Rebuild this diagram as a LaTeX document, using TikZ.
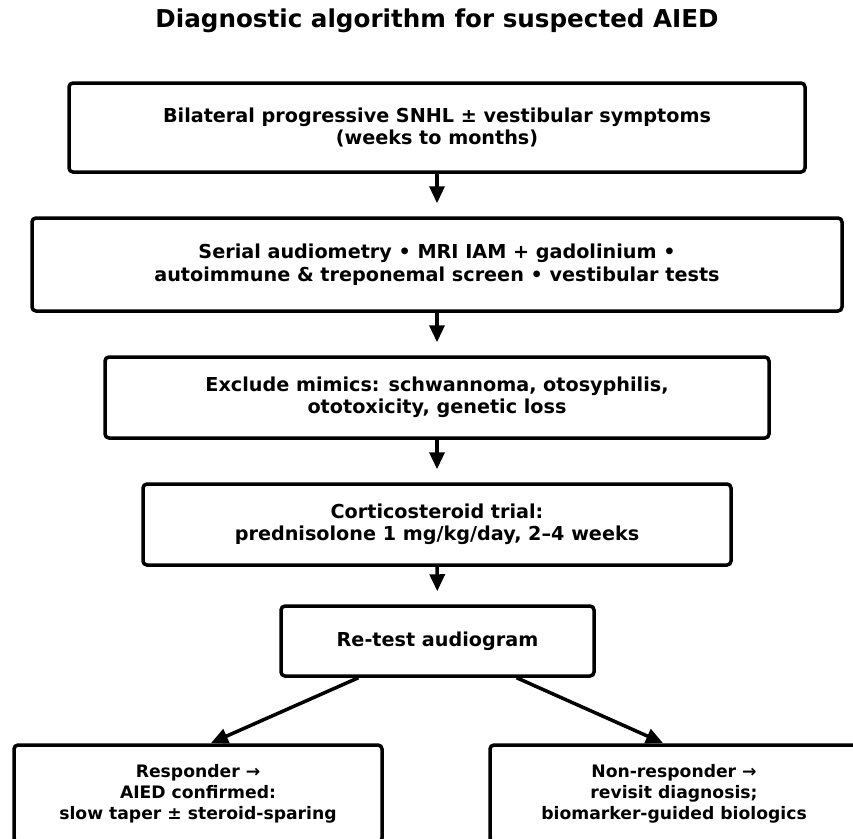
\documentclass[tikz,border=0pt]{standalone}
\usepackage{fontspec}
\setmainfont{DejaVu Sans}
\usetikzlibrary{arrows.meta,calc}
\tikzset{
  box/.style={draw=black, line width=3.5pt, rounded corners=4pt, fill=white, align=center, inner sep=0pt, font=\bfseries\fontsize{19.2}{22.5}\selectfont},
  smallbox/.style={box, font=\bfseries\fontsize{17.2}{21}\selectfont},
  arr/.style={line width=3.5pt, -{Triangle[length=17pt,width=15pt]}},
}
\begin{document}
\begin{tikzpicture}[x=1pt,y=-1pt]
\useasboundingbox (0,0) rectangle (853,838);
\clip (0,0) rectangle (853,838);
\node[font=\bfseries\fontsize{24.6}{28}\selectfont] (title) at (437,21) {Diagnostic algorithm for suspected AIED};
\node[box, minimum width=736pt, minimum height=89pt] (b1) at (437,127.5) {Bilateral progressive SNHL ± vestibular symptoms\\(weeks to months)};
\node[box, minimum width=810pt, minimum height=93pt] (b2) at (437,264.5) {Serial audiometry • MRI IAM + gadolinium •\\autoimmune \& treponemal screen • vestibular tests};
\node[box, minimum width=664pt, minimum height=81pt] (b3) at (437,397.5) {Exclude mimics: schwannoma, otosyphilis,\\ototoxicity, genetic loss};
\node[box, minimum width=588pt, minimum height=81pt] (b4) at (437,524.5) {Corticosteroid trial:\\prednisolone 1 mg/kg/day, 2–4 weeks};
\node[box, minimum width=313pt, minimum height=70pt] (b5) at (437.5,641) {Re-test audiogram};
\node[smallbox, minimum width=368pt, minimum height=97pt] (b6) at (198,793.5) {Responder →\\AIED confirmed:\\slow taper ± steroid-sparing};
\node[smallbox, minimum width=368pt, minimum height=97pt] (b7) at (674,793.5) {Non-responder →\\revisit diagnosis;\\biomarker-guided biologics};
\draw[arr, shorten >=13pt] (b1) -- (b2);
\draw[arr, shorten >=13pt] (b2) -- (b3);
\draw[arr, shorten >=13pt] (b3) -- (b4);
\draw[arr, shorten >=13pt] (b4) -- (b5);
\coordinate (t6) at (211,743);
\coordinate (t7) at (663,743);
\draw[arr] ($(b5.south west)!0.25!(b5.south east)$) -- (t6);
\draw[arr] ($(b5.south west)!0.75!(b5.south east)$) -- (t7);
\end{tikzpicture}
\end{document}
